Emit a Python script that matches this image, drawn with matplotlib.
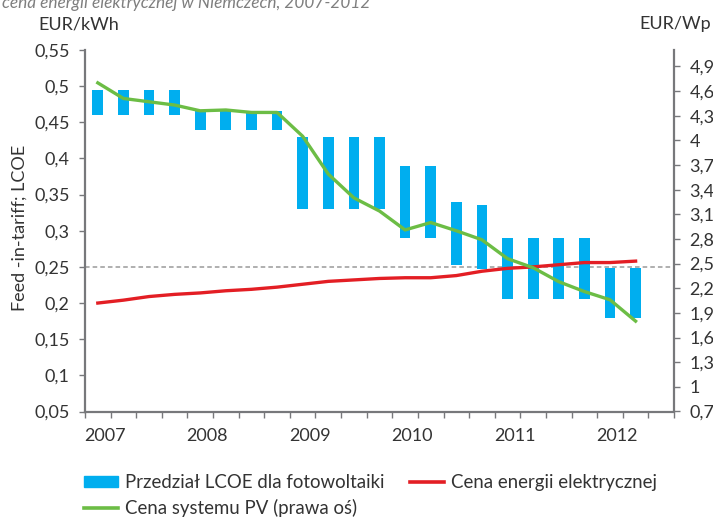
import matplotlib.pyplot as plt
import numpy as np
from matplotlib.patches import Patch
from matplotlib.lines import Line2D

plt.rcParams['font.family'] = ['Lato', 'DejaVu Sans']

# quarterly data, 2007 Q1 .. 2012 Q2
quarters = np.arange(22)
lcoe_low = [0.46, 0.46, 0.46, 0.46, 0.44, 0.44, 0.44, 0.44,
            0.33, 0.33, 0.33, 0.33, 0.29, 0.29, 0.252, 0.247,
            0.205, 0.205, 0.205, 0.205, 0.18, 0.18]
lcoe_high = [0.495, 0.495, 0.495, 0.495, 0.465, 0.465, 0.465, 0.465,
             0.43, 0.43, 0.43, 0.43, 0.39, 0.39, 0.34, 0.335,
             0.29, 0.29, 0.29, 0.29, 0.248, 0.248]
electricity_price = [0.200, 0.204, 0.209, 0.212, 0.214, 0.217, 0.219, 0.222,
                     0.226, 0.230, 0.232, 0.234, 0.235, 0.235, 0.238, 0.244,
                     0.248, 0.250, 0.253, 0.256, 0.256, 0.258]
pv_system_price = [4.70, 4.51, 4.47, 4.43, 4.36, 4.37, 4.34, 4.34,
                   4.05, 3.59, 3.30, 3.14, 2.91, 3.00, 2.90, 2.79,
                   2.56, 2.45, 2.28, 2.16, 2.06, 1.80]
years = ['2007', '2008', '2009', '2010', '2011', '2012']
grid_parity = 0.25

blue = '#00aeef'
red = '#e31e24'
green = '#6cbd45'
axis_grey = '#77787b'
text_col = '#333333'
fs = 13


def comma(v):
    return f'{v:g}'.replace('.', ',')


fig = plt.figure(figsize=(7.13, 5.2), dpi=100)
ax = fig.add_axes([85 / 713, 1 - 411.5 / 520, 589 / 713, 361.5 / 520])
ax2 = ax.twinx()

lcoe_low = np.array(lcoe_low)
lcoe_high = np.array(lcoe_high)
ax.axhline(grid_parity, color='#9a9a9a', lw=1.1, ls=(0, (3, 2)), zorder=1)
ax.bar(quarters, lcoe_high - lcoe_low, bottom=lcoe_low, width=0.42,
       color=blue, zorder=2)
ax.plot(quarters, electricity_price, color=red, lw=2.4, zorder=3)
ax2.plot(quarters, pv_system_price, color=green, lw=2.4, zorder=3)

ax.set_xlim(-0.5, 22.5)
ax.set_ylim(0.05, 0.55)
ax2.set_ylim(0.7, 5.1)

lticks = np.arange(0.05, 0.551, 0.05)
ax.set_yticks(lticks)
ax.set_yticklabels([comma(round(v, 2)) for v in lticks])
rticks = np.arange(0.7, 4.95, 0.3)
ax2.set_yticks(rticks)
ax2.set_yticklabels([comma(round(v, 1)) for v in rticks])

# year labels every four quarters, tick marks at quarter boundaries
ax.set_xticks(np.arange(0, 22, 4) + 0.28)
ax.set_xticklabels(years)
ax.set_xticks(np.arange(-0.5, 23), minor=True)
ax.tick_params(axis='x', which='major', length=0, pad=12,
               labelsize=fs, labelcolor=text_col)
ax.tick_params(axis='x', which='minor', length=4, width=1, color=axis_grey)
ax.tick_params(axis='y', length=4, width=1, color=axis_grey, pad=7,
               labelsize=fs, labelcolor=text_col)
ax2.tick_params(axis='y', length=4, width=1, color=axis_grey, pad=7,
                labelsize=fs, labelcolor=text_col)

for a in (ax, ax2):
    for s in a.spines.values():
        s.set_visible(False)
ax.spines['left'].set_visible(True)
ax.spines['bottom'].set_visible(True)
ax2.spines['right'].set_visible(True)
for s in (ax.spines['left'], ax.spines['bottom'], ax2.spines['right']):
    s.set_color(axis_grey)
    s.set_linewidth(1.6)

fig.text(20 / 713, 1 - 228 / 520, 'Feed -in-tariff; LCOE', rotation=90,
         ha='center', va='center', fontsize=fs, color=text_col)
fig.text(38 / 713, 1 - 24 / 520, 'EUR/kWh', ha='left', va='center',
         fontsize=fs, color=text_col)
fig.text(711 / 713, 1 - 24 / 520, 'EUR/Wp', ha='right', va='center',
         fontsize=fs, color=text_col)
fig.text(2 / 713, 1 - 8 / 520,
         'cena energii elektrycznej w Niemczech, 2007-2012',
         ha='left', va='baseline', fontsize=12.4, style='italic',
         color='#7f7f7f')

handles = [Patch(color=blue), Line2D([], [], color=green, lw=2.6),
           Line2D([], [], color=red, lw=2.6)]
labels = ['Przedział LCOE dla fotowoltaiki', 'Cena systemu PV (prawa oś)',
          'Cena energii elektrycznej']
fig.legend(handles, labels, ncol=2, loc='upper left',
           bbox_to_anchor=(84 / 713, 1 - 474 / 520), frameon=False,
           fontsize=13.4, labelcolor=text_col, borderpad=0, borderaxespad=0,
           handlelength=1.85, handleheight=0.6, handletextpad=0.35,
           columnspacing=1.35, labelspacing=0.45)

fig.savefig('out.png', dpi=100)
